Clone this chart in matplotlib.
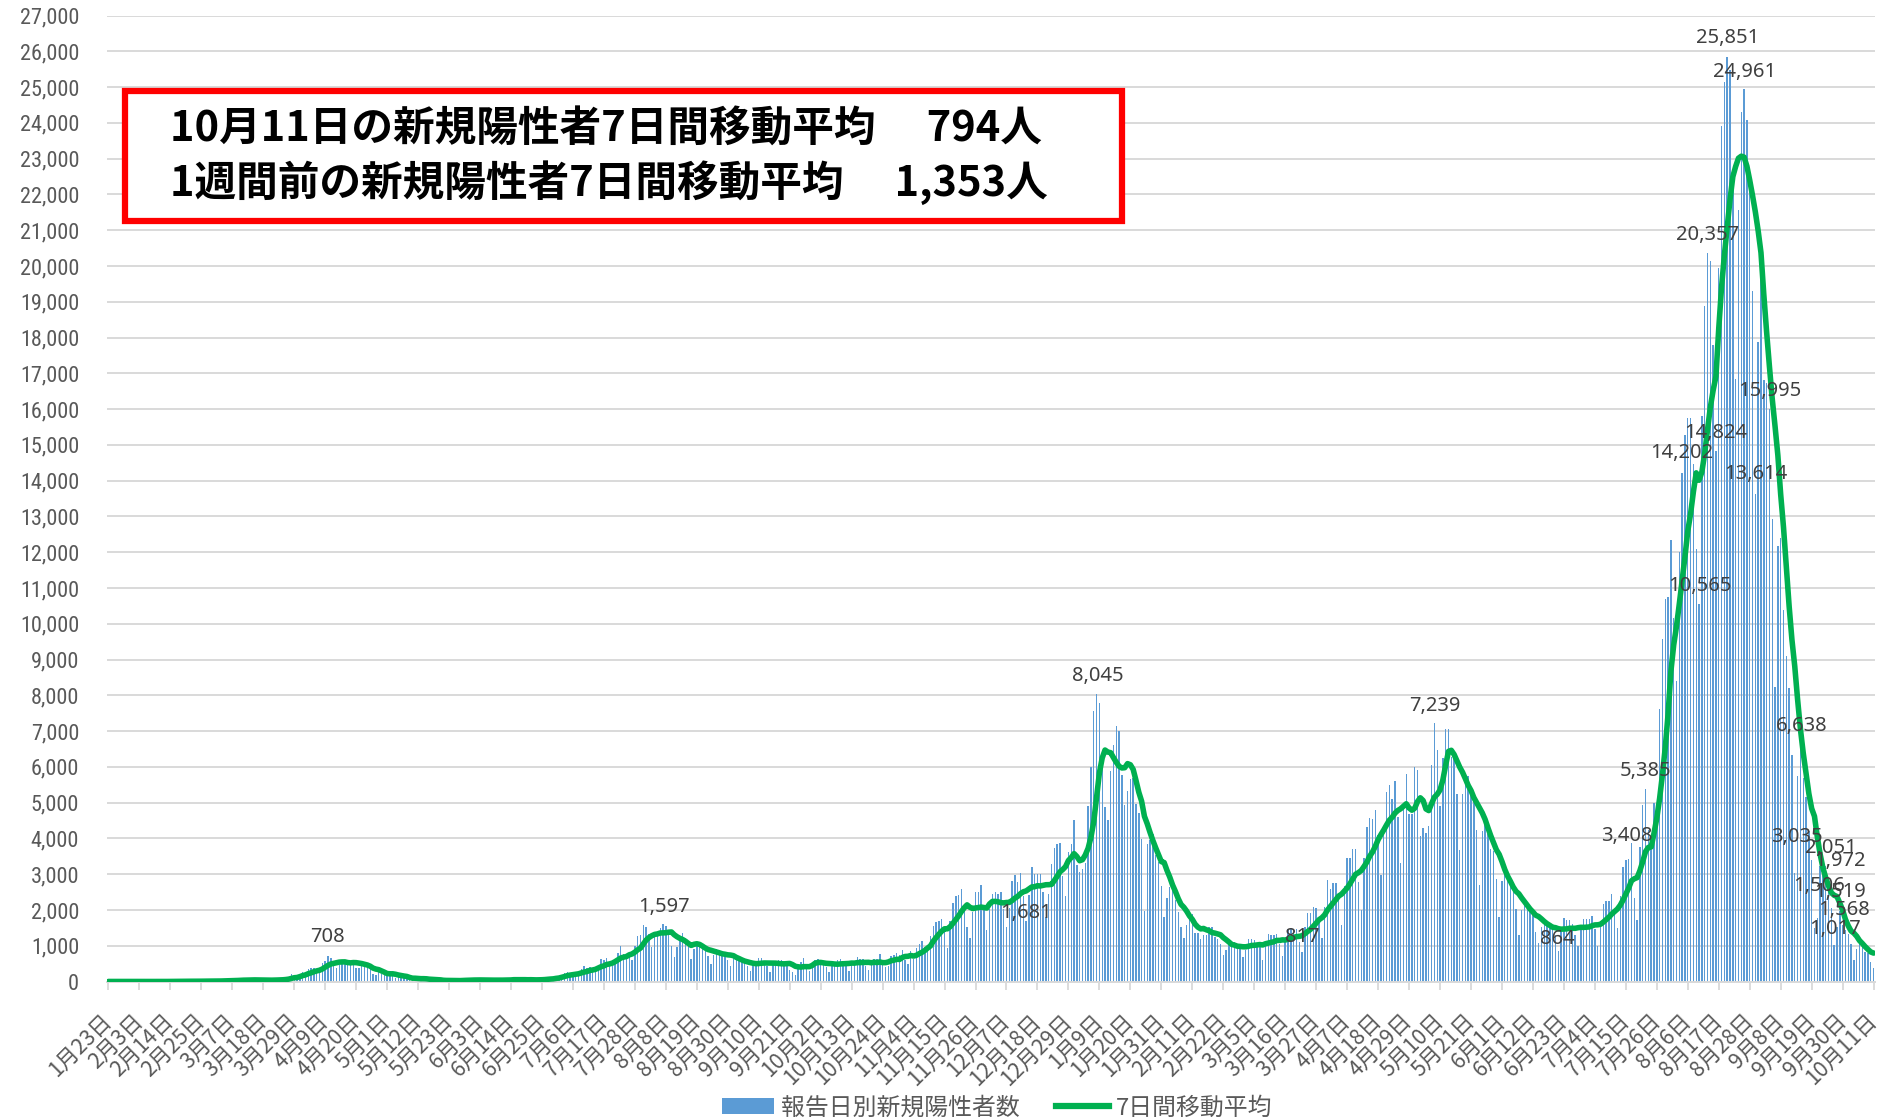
import numpy as np
import pandas as pd
import matplotlib
matplotlib.use("Agg")
import matplotlib.pyplot as plt
from matplotlib import font_manager
from matplotlib.patches import Patch, Rectangle
from matplotlib.lines import Line2D

# ---------------- data ----------------
start_date = "2020-01-23"

cases_2020_jan = [1, 0, 2, 0, 1, 2, 1, 3, 2]
cases_2020_feb = [2, 1, 0, 0, 0, 1, 0, 0, 1, 0, 1, 3, 1, 7, 9, 5, 6, 3, 5, 6,
                  12, 7, 6, 9, 11, 18, 12, 13, 9]
cases_2020_mar = [11, 15, 18, 33, 30, 39, 30, 25, 28, 54, 52, 45, 45, 52, 34, 17,
                  32, 40, 46, 39, 53, 42, 38, 53, 65, 96, 112, 200, 173, 86, 220]
cases_2020_apr = [266, 235, 351, 368, 383, 252, 351, 511, 576, 708, 644, 507, 390,
                  457, 549, 584, 576, 583, 568, 373, 374, 450, 438, 440, 349, 201,
                  178, 264, 212, 190]
cases_2020_may = [165, 294, 201, 87, 124, 99, 99, 84, 104, 54, 74, 80, 56, 99, 58,
                  32, 17, 51, 29, 33, 20, 29, 27, 21, 21, 25, 35, 54, 44, 52, 40]
cases_2020_jun = [35, 41, 34, 44, 46, 40, 37, 24, 37, 43, 41, 61, 52, 47, 72, 39,
                  41, 33, 73, 35, 57, 48, 31, 53, 48, 105, 92, 101, 86, 125]
cases_2020_jul = [120, 195, 250, 274, 207, 169, 206, 207, 355, 430, 385, 408, 262,
                  333, 455, 622, 594, 663, 510, 420, 631, 795, 981, 767, 782, 838,
                  597, 983, 1264, 1301, 1580]
cases_2020_aug = [1536, 1331, 958, 1243, 1358, 1485, 1597, 1565, 1442, 1000, 698,
                  965, 1175, 1361, 1227, 1019, 622, 908, 1072, 1047, 1033, 852, 719,
                  482, 744, 914, 869, 842, 766, 599, 435]
cases_2020_sep = [632, 590, 629, 577, 538, 440, 292, 507, 510, 649, 645, 579, 434,
                  269, 504, 510, 589, 590, 559, 474, 310, 276, 180, 479, 541, 648,
                  479, 301, 517, 596]
cases_2020_oct = [629, 562, 556, 395, 268, 477, 530, 597, 618, 577, 436, 298, 551,
                  516, 697, 637, 616, 420, 316, 463, 626, 628, 755, 487, 414, 447,
                  704, 738, 801, 727, 867]
cases_2020_nov = [613, 481, 860, 631, 945, 1046, 1140, 977, 949, 1278, 1547, 1660,
                  1704, 1735, 1438, 950, 1699, 2201, 2388, 2427, 2596, 2168, 1520,
                  1228, 1947, 2503, 2510, 2684, 2068, 1438]
cases_2020_dec = [2030, 2433, 2510, 2439, 2504, 2029, 1515, 2043, 2810, 2973, 2788,
                  3041, 2389, 1681, 2424, 3211, 3000, 2996, 2994, 2499, 1807, 2439,
                  3271, 3740, 3831, 3881, 2947, 2395, 3606, 3852, 4520]
cases_2021_jan = [3255, 3057, 3152, 3323, 4915, 6001, 7570, 8045, 7790, 6094, 4876,
                  4520, 5875, 6605, 7133, 7014, 5759, 4925, 5320, 5654, 5701, 4973,
                  4713, 3990, 1974, 3852, 3953, 4134, 3535, 3342, 2672]
cases_2021_feb = [1792, 2324, 2631, 2576, 2289, 1946, 1533, 1222, 1569, 1712, 1881,
                  1357, 1360, 1194, 1305, 1308, 1530, 1527, 1243, 1197, 1041, 751,
                  894, 1080, 1047, 1108, 986, 997]
cases_2021_mar = [681, 888, 1192, 1190, 1149, 1064, 1065, 600, 1126, 1319, 1301,
                  1311, 1321, 1059, 706, 1101, 1471, 1508, 1470, 1467, 1117, 817,
                  1510, 1912, 1915, 2079, 2066, 1785, 1203, 2073, 2843]
cases_2021_apr = [2599, 2763, 2764, 2471, 1570, 2660, 3453, 3446, 3691, 3697, 2777,
                  1990, 3451, 4310, 4575, 4532, 4801, 4089, 2983, 4357, 5291, 5505,
                  5114, 5606, 4606, 3317, 4845, 5787, 4678, 4681]
cases_2021_may = [5984, 5913, 4060, 4300, 4144, 4357, 6054, 7239, 6478, 4916, 6236,
                  7057, 7050, 6264, 6420, 5236, 3677, 5228, 5807, 5739, 5265, 5045,
                  4238, 2691, 4207, 4544, 4113, 3712, 3643, 2872, 1790]
cases_2021_jun = [2801, 2983, 2832, 2680, 2530, 2023, 1308, 1997, 2264, 2113, 1941,
                  1954, 1387, 1065, 1534, 1761, 1673, 1602, 1589, 1310, 864, 1447,
                  1776, 1706, 1721, 1598, 1295, 982, 1528, 1759]
cases_2021_jul = [1753, 1757, 1834, 1457, 1004, 1636, 2180, 2247, 2237, 2448, 1930,
                  1502, 2380, 3193, 3408, 3416, 3880, 2329, 1714, 3762, 4943, 5385,
                  4225, 3979, 5000, 4692, 7629, 9576, 10699, 10743, 12340]
cases_2021_aug = [10168, 8392, 12016, 14202, 15263, 15753, 15750, 14472, 12076,
                  10565, 15812, 18889, 20357, 20151, 17801, 14824, 19955, 23917,
                  25146, 25851, 25492, 22285, 16832, 21570, 24316, 24961, 24074,
                  22748, 19297, 13614, 17880]
cases_2021_sep = [20030, 16800, 16741, 15995, 12940, 8233, 12185, 12396, 10396,
                  9100, 8200, 6339, 3035, 5750, 6638, 5687, 5147, 4200, 3400, 1506,
                  1767, 3240, 2980, 3219, 2600, 2051, 1017, 1519, 1972, 1568]
cases_2021_oct = [1440, 1330, 1042, 600, 900, 1130, 1000, 820, 790, 539, 379]

daily_cases = (cases_2020_jan + cases_2020_feb + cases_2020_mar + cases_2020_apr +
               cases_2020_may + cases_2020_jun + cases_2020_jul + cases_2020_aug +
               cases_2020_sep + cases_2020_oct + cases_2020_nov + cases_2020_dec +
               cases_2021_jan + cases_2021_feb + cases_2021_mar + cases_2021_apr +
               cases_2021_may + cases_2021_jun + cases_2021_jul + cases_2021_aug +
               cases_2021_sep + cases_2021_oct)

labelled_dates = ["2020-04-10", "2020-08-07", "2020-12-14", "2021-01-08",
                  "2021-03-22", "2021-05-08", "2021-06-21", "2021-07-15",
                  "2021-07-22", "2021-08-04", "2021-08-10", "2021-08-13",
                  "2021-08-16", "2021-08-20", "2021-08-26", "2021-08-30",
                  "2021-09-04", "2021-09-13", "2021-09-15", "2021-09-20",
                  "2021-09-26", "2021-09-27", "2021-09-28", "2021-09-29",
                  "2021-09-30"]

series_names = ["報告日別新規陽性者数", "7日間移動平均"]
box_lines = ["10月11日の新規陽性者7日間移動平均\u3000 794人",
             "1週間前の新規陽性者7日間移動平均\u3000 1,353人"]

# ---------------- derived ----------------
dates = pd.date_range(start_date, periods=len(daily_cases), freq="D")
cases = pd.Series(daily_cases, index=dates)
ma7 = cases.rolling(7, min_periods=1).mean()
x = np.arange(len(cases))

# label placement offsets (days, cases) -- layout only
label_offsets = [(-0.2, 536), (0.5, 486), (0, 234), (0.3, 495), (0, 427),
                 (0.3, 461), (-0.2, 324), (0.2, 662), (0, 505), (-0.2, 568),
                 (0.3, 495), (0, 513), (-0.1, 506), (0.1, 519), (0.2, 459),
                 (0, 576), (0, 515), (0.6, 1005), (0.3, 492), (1.6, 1164),
                 (-0.3, 1679), (0.2, 463), (1.0, 981), (0, 1398), (0.6, 417)]

# ---------------- fonts ----------------
avail = {f.name for f in font_manager.fontManager.ttflist}
def pick(*names):
    for n in names:
        if n in avail:
            return n
    return "DejaVu Sans"

JP = pick("Noto Sans CJK JP", "Noto Sans CJK SC")
NUM = pick("Noto Sans", "DejaVu Sans")
NARROW = pick("Liberation Sans Narrow", "DejaVu Sans Condensed",
              "Roboto Condensed", "Noto Sans CJK JP")

plt.rcParams["font.family"] = [JP, "DejaVu Sans"]

W, H = 1886, 1117
fig = plt.figure(figsize=(W / 100, H / 100), dpi=100)
fig.patch.set_facecolor("white")

left, right, top, bottom = 107, 1875, 15.6, 981.5
ax = fig.add_axes([left / W, 1 - bottom / H, (right - left) / W, (bottom - top) / H])

ax.bar(x, cases.values, width=0.5, color="#5B9BD5", linewidth=0, zorder=2)
ax.plot(x, ma7.values, color="#00B050", lw=4.0, solid_joinstyle="round",
        solid_capstyle="round", zorder=3)

ax.set_xlim(-0.5, len(x) - 0.5)
ax.set_ylim(0, 27000)
ax.set_yticks(np.arange(0, 27001, 1000))
ax.set_yticklabels([f"{v:,}" for v in range(0, 27001, 1000)],
                   fontfamily=NARROW, fontsize=16 if NARROW != JP else 14,
                   color="#595959")
ax.yaxis.grid(True, color="#D9D9D9", lw=1.4)
ax.set_axisbelow(True)
ax.tick_params(axis="y", length=0, pad=20)

tick_idx = np.arange(0, len(x), 11)
ax.set_xticks(tick_idx)
ax.set_xticklabels([f"{d.month}月{d.day}日" for d in dates[tick_idx]],
                   rotation=45, ha="right", va="center", rotation_mode="anchor",
                   fontsize=15.5, color="#595959", fontfamily=JP)
ax.tick_params(axis="x", length=6, width=1.3, color="#D9D9D9", pad=20)

for s in ["left", "right", "top"]:
    ax.spines[s].set_visible(False)
ax.spines["bottom"].set_color("#D9D9D9")
ax.spines["bottom"].set_linewidth(1.4)

# data labels
for d, (dx, dy) in zip(labelled_dates, label_offsets):
    i = dates.get_loc(pd.Timestamp(d))
    v = int(cases.iloc[i])
    ax.text(i + dx, v + dy, f"{v:,}", ha="center", va="center", fontsize=14.5,
            color="#404040", fontfamily=NUM, zorder=5)

# title box
box = Rectangle((125 / W, 1 - 221 / H), (1122 - 125) / W, (221 - 91) / H,
                transform=fig.transFigure, facecolor="white", edgecolor="#FF0000",
                linewidth=4.5, zorder=10)
fig.add_artist(box)
fig.text(170 / W, 1 - 130 / H, box_lines[0], fontsize=30, fontweight="bold",
         fontfamily=JP, va="center", ha="left", color="black", zorder=11)
fig.text(170 / W, 1 - 183 / H, box_lines[1], fontsize=30, fontweight="bold",
         fontfamily=JP, va="center", ha="left", color="black", zorder=11)

# legend
handles = [Patch(facecolor="#5B9BD5", edgecolor="none"),
           Line2D([0], [0], color="#00B050", lw=4.5)]
leg = fig.legend(handles, series_names, loc="center", ncol=2,
                 bbox_to_anchor=(997 / W, 1 - 1108 / H), frameon=False,
                 prop={"family": JP, "size": 17.2}, labelcolor="#595959",
                 handlelength=2.2, handleheight=0.6, handletextpad=0.3,
                 columnspacing=1.5)

fig.savefig("out.png", dpi=100, facecolor="white")
